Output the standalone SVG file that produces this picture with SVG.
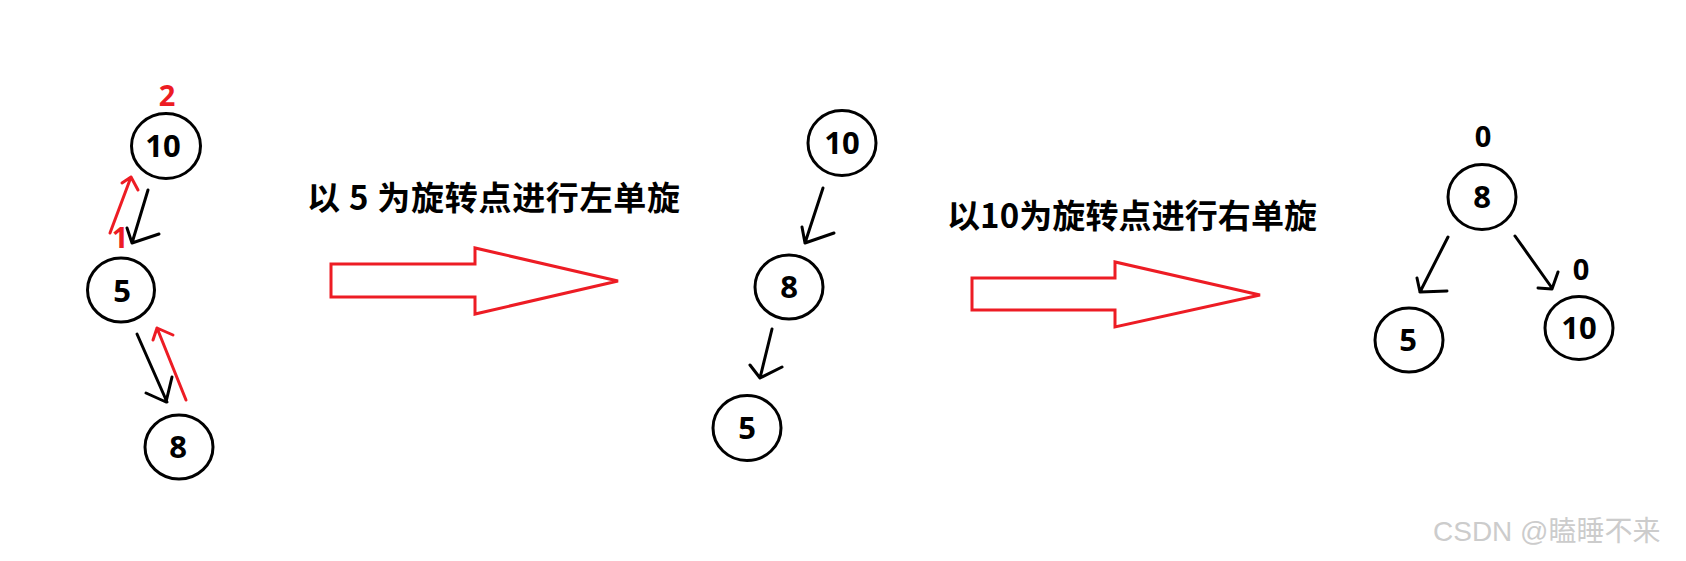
<svg xmlns="http://www.w3.org/2000/svg" width="1686" height="561" viewBox="0 0 1686 561">
<style>
.node ellipse{fill:none;stroke:#000;stroke-width:3}
.lbl{font-family:"Open Sans","Liberation Sans",sans-serif;font-weight:700;font-size:31px;fill:#000;text-anchor:middle}
.bf{font-family:"Open Sans","Liberation Sans",sans-serif;font-weight:700;font-size:29px;text-anchor:middle}
.red{fill:#ed1c24}
.blk{fill:#000}
.edge{fill:none;stroke:#000;stroke-width:3;stroke-linecap:round;stroke-linejoin:round}
.redge{fill:none;stroke:#ed1c24;stroke-width:3;stroke-linecap:round;stroke-linejoin:round}
.big{fill:#fff;stroke:#ed1c24;stroke-width:3;stroke-linejoin:miter}
.title{font-family:"Noto Sans CJK SC","Noto Sans",sans-serif;font-weight:700;font-size:33px;fill:#000}
.wm{font-family:"Liberation Sans","Noto Sans CJK SC",sans-serif;font-size:28px;fill:#cccccc}
</style>
<rect width="1686" height="561" fill="#fff"/>

<g id="connectors">
  <path class="edge" d="M148,190 L132,243 M127,228 L132,243 L159,234"/>
  <path class="edge" d="M137,334 L167,402 M146,393 L166,402 L172,377"/>
  <path class="redge" d="M110,233 L131,177 M122,183 L131,177 L138,190"/>
  <path class="redge" d="M186,400 L157,328 M153,340 L157,328 L173,335"/>
  <path class="edge" d="M823,188 L805,243 M802,227 L805,243 L834,233"/>
  <path class="edge" d="M772,329 L760,378 M750,365 L760,378 L782,367"/>
  <path class="edge" d="M1448,237 L1420,292 M1417,278 L1420,292 L1447,291"/>
  <path class="edge" d="M1515,236 L1552,288 M1538,288 L1552,289 L1558,272"/>
</g>

<g id="step1-arrow">
  <path class="big" d="M331,264 L475,264 L475,248 L618,281 L475,314 L475,297 L331,297 Z"/>
  <text class="title" x="307" y="210" textLength="373" lengthAdjust="spacing">以 5 为旋转点进行左单旋</text>
</g>
<g id="step2-arrow">
  <path class="big" d="M972,278 L1115,278 L1115,262 L1260,295 L1115,327 L1115,310 L972,310 Z"/>
  <text class="title" x="947" y="228" textLength="370" lengthAdjust="spacing">以10为旋转点进行右单旋</text>
</g>

<g id="t1-n10" class="node">
  <ellipse cx="166" cy="146" rx="34.5" ry="32.5"/>
  <text class="lbl" x="163" y="157">10</text>
  <text class="bf red" x="167" y="106">2</text>
</g>
<g id="t1-n5" class="node">
  <ellipse cx="121" cy="290" rx="33.5" ry="32"/>
  <text class="lbl" x="122" y="302">5</text>
  <text class="bf red" x="120" y="248">1</text>
</g>
<g id="t1-n8" class="node">
  <ellipse cx="179" cy="447" rx="34" ry="32"/>
  <text class="lbl" x="178" y="458">8</text>
</g>

<g id="t2-n10" class="node">
  <ellipse cx="842" cy="143" rx="34" ry="32.5"/>
  <text class="lbl" x="842" y="154">10</text>
</g>
<g id="t2-n8" class="node">
  <ellipse cx="789" cy="287" rx="34" ry="32"/>
  <text class="lbl" x="789" y="298">8</text>
</g>
<g id="t2-n5" class="node">
  <ellipse cx="747" cy="428" rx="34" ry="32.5"/>
  <text class="lbl" x="747" y="439">5</text>
</g>

<g id="t3-n8" class="node">
  <ellipse cx="1482" cy="197" rx="34" ry="32.5"/>
  <text class="lbl" x="1482" y="208">8</text>
  <text class="bf blk" x="1483" y="147">0</text>
</g>
<g id="t3-n5" class="node">
  <ellipse cx="1409" cy="340" rx="34" ry="32"/>
  <text class="lbl" x="1408" y="351">5</text>
</g>
<g id="t3-n10" class="node">
  <ellipse cx="1579" cy="328" rx="34" ry="31.5"/>
  <text class="lbl" x="1579" y="339">10</text>
  <text class="bf blk" x="1581" y="280">0</text>
</g>

<text class="wm" x="1433" y="541">CSDN @瞌睡不来</text>
</svg>
